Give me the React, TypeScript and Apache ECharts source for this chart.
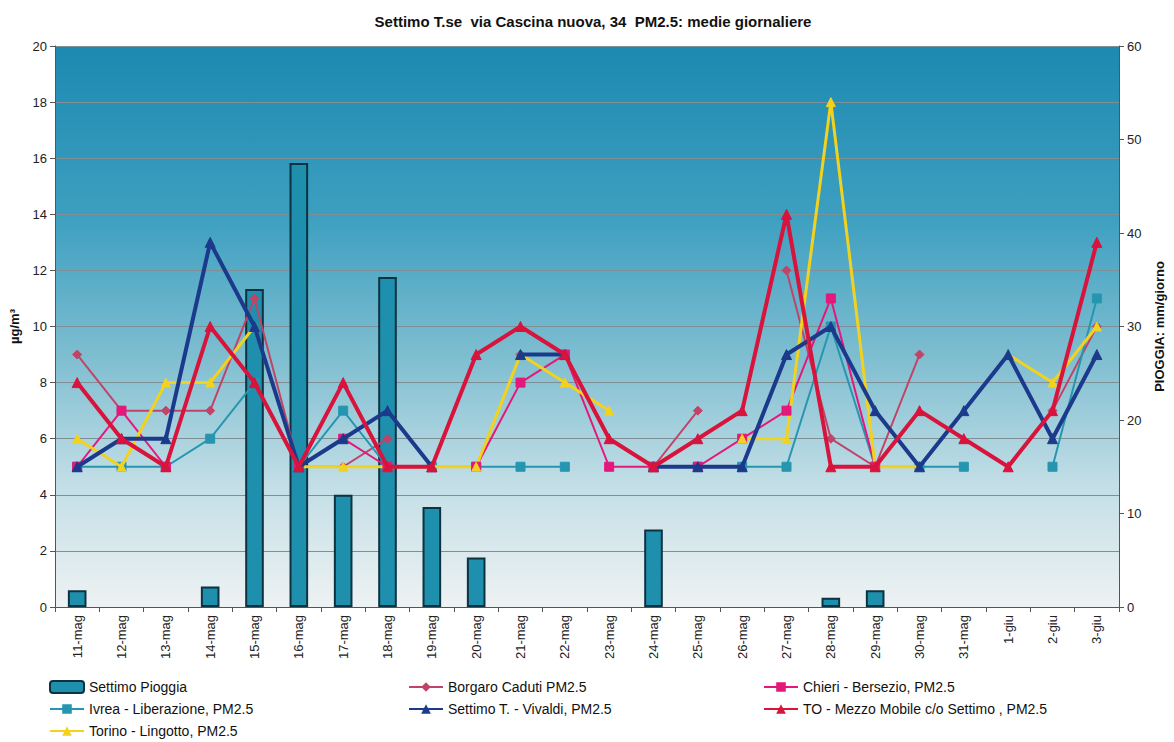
import React, { useEffect, useRef } from "react";
import * as echarts from "echarts";

const categories = [
  "11-mag", "12-mag", "13-mag", "14-mag", "15-mag", "16-mag", "17-mag", "18-mag",
  "19-mag", "20-mag", "21-mag", "22-mag", "23-mag", "24-mag", "25-mag", "26-mag",
  "27-mag", "28-mag", "29-mag", "30-mag", "31-mag", "1-giu", "2-giu", "3-giu",
];

const pioggia = [1.8, null, null, 2.2, 34, 47.5, 12, 35.3, 10.7, 5.3, null, null, null, 8.3, null, null, null, 1, 1.8, null, null, null, null, null];
const borgaro = [9, 7, 7, 7, 11, 5, 5, 6, null, null, 9, null, null, 5, 7, null, 12, 6, 5, 9, null, null, 7, 10];
const chieri = [5, 7, 5, null, null, 5, 6, 5, null, 5, 8, 9, 5, 5, 5, 6, 7, 11, 5, null, null, null, null, null];
const ivrea = [5, 5, 5, 6, 8, 5, 7, 5, 5, 5, 5, 5, null, 5, 5, 5, 5, 10, 5, 5, 5, null, 5, 11];
const vivaldi = [5, 6, 6, 13, 10, 5, 6, 7, 5, null, 9, 9, null, 5, 5, 5, 9, 10, 7, 5, 7, 9, 6, 9];
const mezzoMobile = [8, 6, 5, 10, 8, 5, 8, 5, 5, 9, 10, 9, 6, 5, 6, 7, 14, 5, 5, 7, 6, 5, 7, 13];
const lingotto = [6, 5, 8, 8, 10, 5, 5, 5, 5, 5, 9, 8, 7, null, null, 6, 6, 18, 5, 5, null, 9, 8, 10];

const FONT = "Liberation Sans, Arial, sans-serif";

function lineSeries(name: string, data: (number | null)[], color: string, symbol: string, width: number, size: number, z: number) {
  return {
    name,
    type: "line",
    data,
    yAxisIndex: 0,
    symbol,
    symbolSize: size,
    z,
    lineStyle: { color, width },
    itemStyle: { color, borderColor: color },
  };
}

export default function App() {
  const ref = useRef<HTMLDivElement>(null);
  useEffect(() => {
    if (!ref.current) return;
    const chart = echarts.init(ref.current, null, { renderer: "svg" });
    const legendText = { fontFamily: FONT, fontSize: 14, color: "#111" };
    const legendBase = { orient: "vertical", itemGap: 8, itemWidth: 34, itemHeight: 12, top: 675, height: 66, textStyle: legendText };
    chart.setOption({
      animation: false,
      backgroundColor: "#ffffff",
      textStyle: { fontFamily: FONT },
      title: {
        text: "Settimo T.se  via Cascina nuova, 34  PM2.5: medie giornaliere",
        left: 588,
        textAlign: "center",
        top: 9,
        textStyle: { fontFamily: FONT, fontSize: 15, fontWeight: "bold", color: "#111" },
      },
      legend: [
        { ...legendBase, left: 44, data: ["Settimo Pioggia", "Ivrea - Liberazione, PM2.5", "Torino - Lingotto, PM2.5"] },
        { ...legendBase, left: 403, data: ["Borgaro Caduti PM2.5", "Settimo T. - Vivaldi, PM2.5"] },
        { ...legendBase, left: 758, data: ["Chieri - Bersezio, PM2.5", "TO - Mezzo Mobile c/o Settimo , PM2.5"] },
      ],
      grid: {
        left: 55, right: 52, top: 46, bottom: 135,
        show: true,
        borderWidth: 0,
        backgroundColor: new echarts.graphic.LinearGradient(0, 0, 0, 1, [
          { offset: 0, color: "#1d89b0" },
          { offset: 0.3, color: "#3c9fc0" },
          { offset: 0.55, color: "#7dbdd0" },
          { offset: 0.78, color: "#c2dee6" },
          { offset: 1, color: "#eef2f3" },
        ]),
      },
      xAxis: {
        type: "category",
        data: categories,
        axisLine: { lineStyle: { color: "#555", width: 1 } },
        axisTick: { show: true, alignWithLabel: false, lineStyle: { color: "#555" } },
        axisLabel: { rotate: 90, fontSize: 13, color: "#222", fontFamily: FONT, margin: 8 },
      },
      yAxis: [
        {
          type: "value",
          min: 0, max: 20, interval: 2,
          name: "µg/m³",
          nameLocation: "middle",
          nameGap: 34,
          nameRotate: 90,
          nameTextStyle: { fontFamily: FONT, fontSize: 13, fontWeight: "bold", color: "#111" },
          axisLine: { show: true, lineStyle: { color: "#555" } },
          axisTick: { show: true, lineStyle: { color: "#555" } },
          axisLabel: { fontSize: 13, color: "#222", fontFamily: FONT },
          splitLine: { show: true, lineStyle: { color: "#7f8f96", width: 1 } },
        },
        {
          type: "value",
          min: 0, max: 60, interval: 10,
          position: "right",
          name: "PIOGGIA: mm/giorno",
          nameLocation: "middle",
          nameGap: 34,
          nameRotate: 90,
          nameTextStyle: { fontFamily: FONT, fontSize: 13, fontWeight: "bold", color: "#111" },
          axisLine: { show: true, lineStyle: { color: "#555" } },
          axisTick: { show: true, lineStyle: { color: "#555" } },
          axisLabel: { fontSize: 13, color: "#222", fontFamily: FONT },
          splitLine: { show: false },
        },
      ],
      series: [
        {
          name: "Settimo Pioggia",
          type: "bar",
          yAxisIndex: 1,
          data: pioggia,
          barWidth: "42%",
          z: 1,
          itemStyle: { color: "#1f8fae", borderColor: "#0d3340", borderWidth: 2 },
        },
        lineSeries("Borgaro Caduti PM2.5", borgaro, "#c04468", "diamond", 2, 9, 3),
        lineSeries("Chieri - Bersezio, PM2.5", chieri, "#e3187a", "rect", 2, 9, 4),
        lineSeries("Ivrea - Liberazione, PM2.5", ivrea, "#2696b0", "rect", 2, 9, 3),
        lineSeries("Settimo T. - Vivaldi, PM2.5", vivaldi, "#1c3a8c", "triangle", 4, 10, 5),
        lineSeries("TO - Mezzo Mobile c/o Settimo , PM2.5", mezzoMobile, "#d8133c", "triangle", 4, 10, 6),
        lineSeries("Torino - Lingotto, PM2.5", lingotto, "#f2d21e", "triangle", 3, 9, 4),
      ],
    });
    return () => chart.dispose();
  }, []);
  return <div ref={ref} style={{ position: "fixed", left: 0, top: 0, width: 1174, height: 742 }} />;
}
